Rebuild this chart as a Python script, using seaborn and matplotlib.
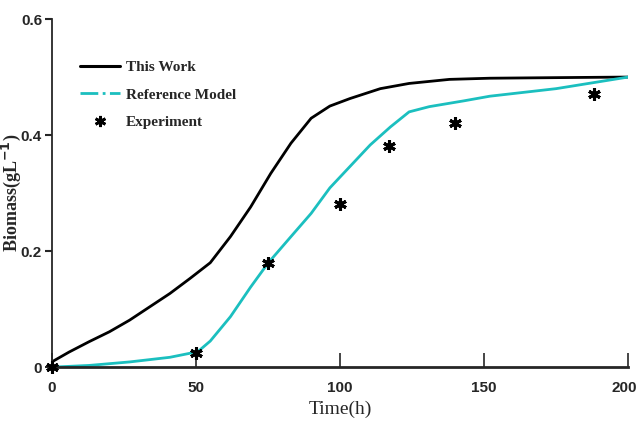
"""Biomass growth: model curves vs experiment."""

import matplotlib
matplotlib.use("Agg")
import matplotlib.pyplot as plt
import matplotlib.transforms as mtransforms
from matplotlib.lines import Line2D
import pandas as pd
import seaborn as sns

# values
this_work_t = [0, 6, 13, 20, 27, 34, 41, 48, 55, 62, 69, 76, 83, 90, 96.5,
               103.5, 114, 124, 138, 152, 175, 200]
this_work_x = [0.009, 0.026, 0.044, 0.061, 0.081, 0.104, 0.127, 0.153, 0.180, 0.225,
               0.276, 0.334, 0.386, 0.429, 0.450, 0.463, 0.480, 0.489, 0.496, 0.498,
               0.499, 0.500]

ref_t = [0, 13, 27, 41, 48, 51, 55, 62, 69, 75, 83, 90, 96.5, 103.5, 110.5, 117.5,
         124, 131, 143, 152, 175, 200]
ref_x = [0.0, 0.003, 0.009, 0.017, 0.024, 0.028, 0.045, 0.087, 0.138, 0.179, 0.225,
         0.265, 0.309, 0.346, 0.383, 0.414, 0.440, 0.449, 0.459, 0.467, 0.480, 0.500]

exp_t = [0, 50, 75, 100, 117, 140, 188]
exp_x = [0.0, 0.024, 0.179, 0.281, 0.381, 0.421, 0.471]

x_ticks = [0, 50, 100, 150, 200]
y_ticks = [0, 0.2, 0.4, 0.6]
y_tick_labels = ["0", "0.2", "0.4", "0.6"]

CYAN = "#1bbfbf"


def main():
    sns.set_style("ticks")
    plt.rcParams["font.family"] = ["Liberation Sans", "DejaVu Sans"]

    fig = plt.figure(figsize=(6.39, 4.23), dpi=100)
    ax = fig.add_axes([0.081, 0.132, 0.902, 0.823])

    tw = pd.DataFrame({"t": this_work_t, "x": this_work_x})
    rf = pd.DataFrame({"t": ref_t, "x": ref_x})
    ex = pd.DataFrame({"t": exp_t, "x": exp_x})

    sns.lineplot(data=tw, x="t", y="x", color="black", linewidth=2, ax=ax)
    sns.lineplot(data=rf, x="t", y="x", color=CYAN, linewidth=2, ax=ax)
    ax.plot(ex["t"], ex["x"], linestyle="none", marker=(6, 2, 0), markersize=9,
            markeredgewidth=2.2, color="black", zorder=5, clip_on=False)

    ax.set_xlim(0, 200)
    ax.set_ylim(0, 0.6)
    ax.set_xticks(x_ticks)
    ax.set_yticks(y_ticks)
    ax.set_yticklabels(y_tick_labels)
    ax.tick_params(axis="x", direction="in", length=10, width=1.2, labelsize=11, pad=10)
    ax.tick_params(axis="y", direction="out", length=5, width=1.5, labelsize=11, pad=2)
    for lab in ax.get_xticklabels() + ax.get_yticklabels():
        lab.set_fontweight("bold")
    # keep the last x label inside the canvas
    last = ax.get_xticklabels()[-1]
    last.set_transform(last.get_transform() +
                       mtransforms.ScaledTranslation(-3 / 72, 0, fig.dpi_scale_trans))

    sns.despine(ax=ax)
    ax.spines["left"].set_linewidth(1.3)
    ax.spines["bottom"].set_linewidth(2)

    serif = ["Liberation Serif", "DejaVu Serif"]
    ax.set_xlabel("Time(h)", family=serif, fontsize=14, labelpad=4)
    ax.set_ylabel("Biomass(gL$^{\\mathbf{-1}}$)", family=serif, fontsize=13,
                  fontweight="bold")
    ax.yaxis.set_label_coords(-0.05, 0.5)

    handles = [
        Line2D([], [], color="black", linewidth=2.2),
        Line2D([], [], color=CYAN, linewidth=2, linestyle="-."),
        Line2D([], [], color="black", linestyle="none", marker=(6, 2, 0),
               markersize=8, markeredgewidth=2),
    ]
    ax.legend(handles, ["This Work", "Reference Model", "Experiment"],
              loc="upper left", bbox_to_anchor=(0.025, 0.92), frameon=False,
              prop={"family": serif, "weight": "bold", "size": 11},
              handlelength=2.6, labelspacing=0.9, handletextpad=0.4)

    fig.savefig("out.png", dpi=100)
    plt.close(fig)


if __name__ == "__main__":
    main()
